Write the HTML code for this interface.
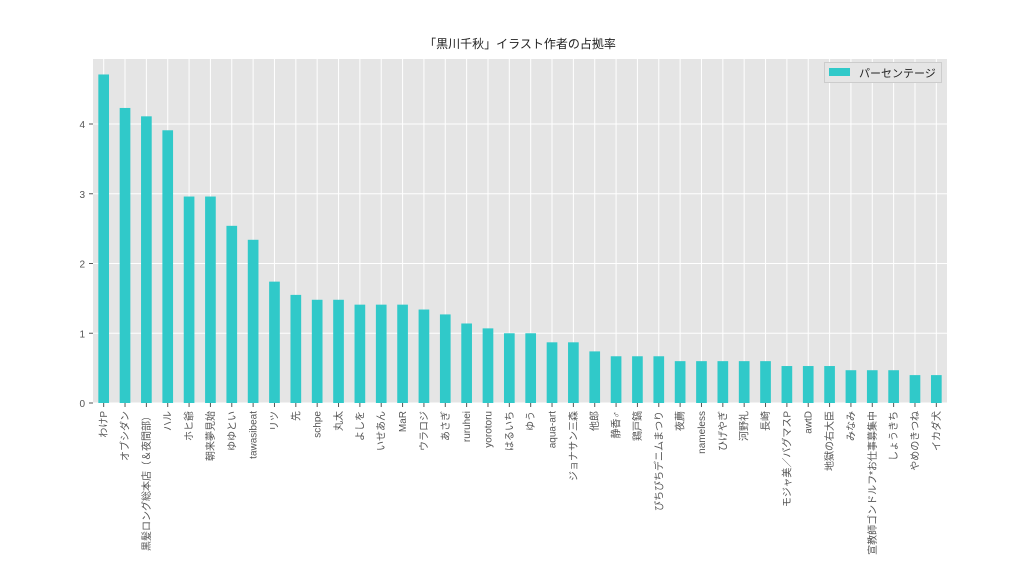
<!DOCTYPE html>
<html><head><meta charset="utf-8"><style>
body{margin:0;background:#fff;width:1024px;height:576px;overflow:hidden}
svg text{font-family:"Liberation Sans","Noto Sans CJK JP",sans-serif}
</style></head><body>
<svg id="chart" width="1024" height="576" xmlns="http://www.w3.org/2000/svg"></svg>
<script>
const categories=["わけP","オブシダン","黒髪ロング総本店（＆夜間部）","ハル","ホヒ爺","朝来夢見始","ゆゆとい","tawasibeat","リツ","先","schpe","丸太","よしを","いせあん","MaR","ウラロジ","あさぎ","ruruhei","yorotoru","はるいち","ゆう","aqua-art","ジョナサン三森","他郎","静香♂","鶏戸鎬","ぴちぴちデニムまつり","夜薦","nameless","ひげやぎ","河野礼","長崎","モジャ美／バグマスP","awtD","地獄の右大臣","みなみ","宣教師ゴンドルフ*お仕事募集中","しょうきち","やめのきつね","イカダ犬"];
const values=[4.71,4.23,4.11,3.91,2.96,2.96,2.54,2.34,1.74,1.55,1.48,1.48,1.41,1.41,1.41,1.34,1.27,1.14,1.07,1.0,1.0,0.87,0.87,0.74,0.67,0.67,0.67,0.6,0.6,0.6,0.6,0.6,0.53,0.53,0.53,0.47,0.47,0.47,0.4,0.4];
const yTicks=[0,1,2,3,4];
const svg=document.getElementById('chart');
const NS='http://www.w3.org/2000/svg';
const L=93,R=947,T=59,B=403;
const band=(R-L)/categories.length;
const x=i=>L+band*(i+0.5);
const y=v=>B-v*69.75;
function mk(tag,attrs,parent){const e=document.createElementNS(NS,tag);for(const k in attrs)e.setAttribute(k,attrs[k]);(parent||svg).appendChild(e);return e;}
const bg=mk('rect',{x:L,y:T,width:R-L,height:B-T,fill:'#e5e5e5'});


yTicks.forEach(t=>{
 const g=mk('line',{x1:L,x2:R,y1:y(t),y2:y(t),stroke:'#fff','stroke-width':1});
 
 
 const tk=mk('line',{x1:L-4,x2:L,y1:y(t),y2:y(t),stroke:'#555'});
 
 
 const tx=mk('text',{x:L-8,y:y(t)+4,'text-anchor':'end','font-size':10,fill:'#555'});
 tx.textContent=t;
 
 
});
categories.forEach((c,i)=>{
 const g=mk('line',{x1:x(i),x2:x(i),y1:T,y2:B,stroke:'#fff','stroke-width':1});
 
 
});
categories.forEach((c,i)=>{
 const b=mk('rect',{x:x(i)-band/4,y:y(values[i]),width:band/2,height:B-y(values[i]),fill:'#30c9c9'});
 
 
 const tk=mk('line',{x1:x(i),x2:x(i),y1:B,y2:B+4,stroke:'#555'});
 
 
 const tx=mk('text',{x:0,y:0,'text-anchor':'end','font-size':10,fill:'#555',transform:`translate(${x(i)+3.5},${B+8}) rotate(-90)`});
 tx.textContent=c;
 
 
});
const title=mk('text',{x:520,y:48,'text-anchor':'middle','font-size':12,fill:'#222'});
title.textContent='「黒川千秋」イラスト作者の占拠率';


const lg=mk('g',{});


mk('rect',{x:824.5,y:62.5,width:117,height:20,fill:'#e5e5e5',stroke:'#ccc'},lg);
const sw=mk('rect',{x:829,y:68,width:21,height:8,fill:'#30c9c9'},lg);


const lt=mk('text',{x:859,y:77,'font-size':11,fill:'#222'},lg);
lt.textContent='パーセンテージ';


</script>
</body></html>
